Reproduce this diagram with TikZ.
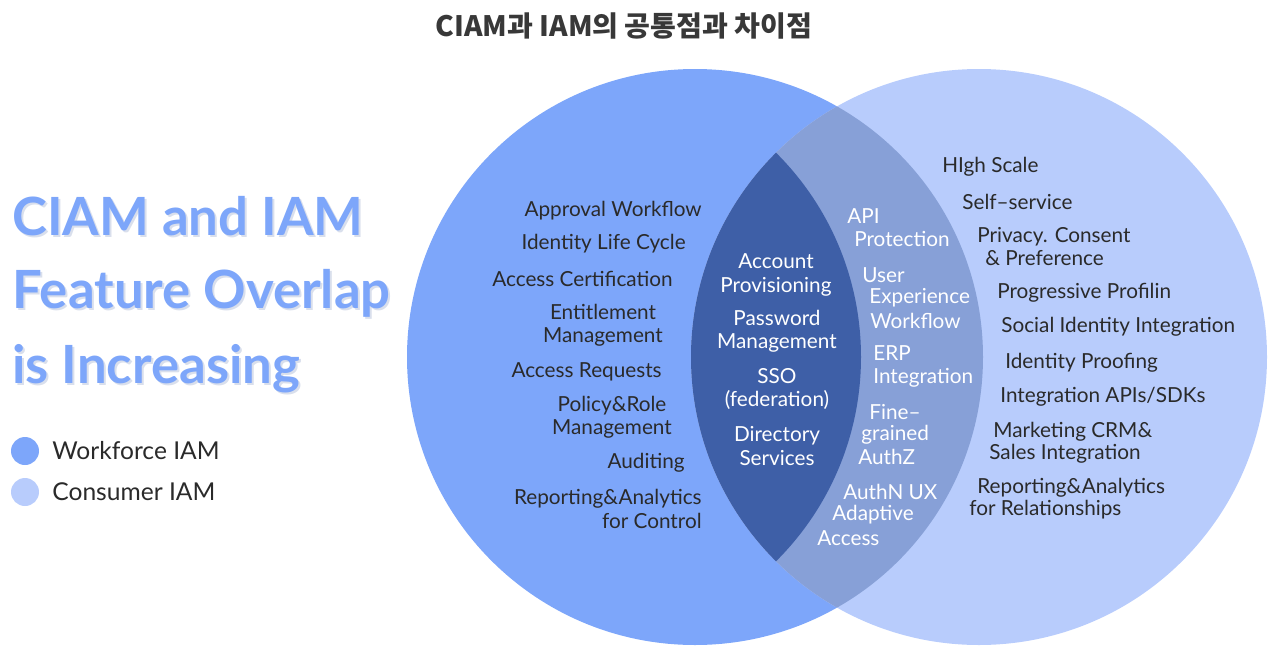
\documentclass[tikz,border=0pt]{standalone}
\usepackage{fontspec}
\setmainfont{Lato}
\newfontfamily\krfont{Noto Sans CJK KR}
\usepackage{tikz}
\usetikzlibrary{positioning}
\definecolor{leftBlue}{HTML}{7DA6FA}
\definecolor{rightBlue}{HTML}{B8CCFC}
\definecolor{overlapBlue}{HTML}{87A0D7}
\definecolor{lensBlue}{HTML}{3E5FA7}
\definecolor{mainDark}{HTML}{2A2A2A}
\definecolor{titleGray}{HTML}{383838}
\definecolor{shadowGray}{HTML}{D9DFEC}

\begin{document}
\begin{tikzpicture}[x=0.02cm, y=-0.02cm,
    feature/.style={text=mainDark, inner sep=0pt, align=center, font=\fontsize{11.8}{13.2}\selectfont},
    inner/.style={feature, text=white},
    heading/.style={inner sep=0pt, anchor=base west, font=\bfseries\fontsize{30}{36}\selectfont},
    legend/.style={text=mainDark, inner sep=0pt, anchor=west, font=\fontsize{14}{16}\selectfont}]
    \useasboundingbox (0,0) rectangle (1279,646);

    \coordinate (L) at (695,357);   % workforce circle
    \coordinate (R) at (979,357);   % consumer circle
    \coordinate (M) at (573,357);   % mirror of R, cuts the core lens

    % Circles
    \fill[leftBlue] (L) circle (288);
    \fill[rightBlue] (R) circle (288);
    \begin{scope}
        \clip (L) circle (288);
        \fill[overlapBlue] (R) circle (288);
    \end{scope}
    \begin{scope}
        \clip (M) circle (288);
        \fill[lensBlue] (R) circle (288);
    \end{scope}

    % Title
    \node[text=titleGray, font=\krfont\bfseries\fontsize{16}{18}\selectfont] (title) at (624,26) {CIAM과 IAM의 공통점과 차이점};

    % Heading with its soft shadow
    \foreach \txt/\yy [count=\i] in {CIAM and IAM/235, Feature Overlap/308, is Increasing/383} {
        \node[heading, text=shadowGray] (headshadow\i) at (14,\yy+2) {\txt};
        \node[heading, text=leftBlue] (head\i) at (12,\yy) {\txt};
    }

    % Legend
    \fill[leftBlue] (25,451) circle (14);
    \node[legend] (workforce) at (52,451) {Workforce IAM};
    \fill[rightBlue] (25,492) circle (14);
    \node[legend] (consumer) at (52,492) {Consumer IAM};

    % Workforce only
    \node[feature, anchor=east] (approval) at (702,211) {Approval Workflow};
    \node[feature, anchor=east] (lifecycle) at (686,244) {Identity Life Cycle};
    \node[feature, anchor=east] (certification) at (673,279) {Access Certification};
    \node[feature] (entitlement) at (603,325) {Entitlement\\Management};
    \node[feature, anchor=east] (requests) at (662,372) {Access Requests};
    \node[feature] (policy) at (612,417) {Policy\&Role\\Management};
    \node[feature, anchor=east] (auditing) at (685,463) {Auditing};
    \node[feature, anchor=east, align=right] (control) at (702,509) {Reporting\&Analytics\\for Control};

    % Shared core
    \node[inner] (account) at (776,275) {Account\\Provisioning};
    \node[inner] (password) at (777,331) {Password\\Management};
    \node[inner] (sso) at (777,389) {SSO\\(federation)};
    \node[inner] (directory) at (777,446) {Directory\\Services};

    % Overlap band
    \foreach \xx/\yy/\txt [count=\i] in {847/216/API, 854/239/Protection, 862/275/User,
        869/298/Experience, 870/321/Workflow, 873/353/ERP, 873/378/Integration,
        869/412/Fine--, 861/435/grained, 858/457/AuthZ, 843/492/AuthN UX,
        832/515/Adaptive, 817/538/Access}
        \node[inner, anchor=west] (band\i) at (\xx,\yy) {\txt};

    % Consumer only
    \foreach \xx/\yy/\txt [count=\i] in {942/167/HIgh Scale, 962/202/Self--service,
        977/237/Privacy. Consent, 985/258/\& Preference, 997/293/Progressive Profilin,
        1001/327/Social Identity Integration, 1005/363/Identity Proofing,
        1000/397/{Integration APIs/SDKs}, 993/432/Marketing CRM\&, 989/454/Sales Integration,
        977/488/Reporting\&Analytics, 969/510/for Relationships}
        \node[feature, anchor=west] (consumer\i) at (\xx,\yy) {\txt};
\end{tikzpicture}
\end{document}
